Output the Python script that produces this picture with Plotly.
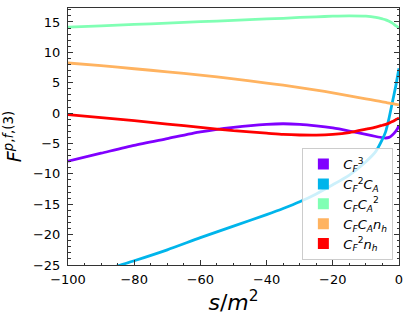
import plotly.graph_objects as go

s = [-100, -90, -80, -70, -60, -50, -40, -35, -30, -25, -20, -15, -10, -7, -5, -4, -3, -2, -1, -0.5, 0]

cf3 = [-7.9, -6.6, -5.3, -4.2, -3.1, -2.35, -1.85, -1.75, -1.85, -2.1, -2.45, -2.95, -3.5, -3.85, -4.05, -4.1, -4.0, -3.6, -3.0, -2.6, -2.0]
cf2ca = [-28.0, -26.0, -24.3, -22.5, -20.5, -18.6, -16.7, -15.7, -14.6, -13.3, -11.8, -10.2, -8.0, -6.3, -4.3, -3.0, -0.8, 1.8, 4.4, 5.9, 7.4]
cfca2 = [14.15, 14.35, 14.6, 14.8, 15.05, 15.25, 15.5, 15.6, 15.75, 15.85, 15.95, 16.0, 15.95, 15.75, 15.5, 15.35, 15.1, 14.8, 14.4, 14.2, 14.0]
cfcanh = [8.25, 7.8, 7.3, 6.8, 6.25, 5.65, 4.95, 4.6, 4.2, 3.8, 3.35, 2.85, 2.35, 2.05, 1.85, 1.75, 1.65, 1.55, 1.45, 1.4, 1.35]
cf2nh = [-0.25, -0.75, -1.25, -1.8, -2.35, -2.9, -3.3, -3.5, -3.6, -3.62, -3.5, -3.2, -2.65, -2.3, -2.0, -1.85, -1.65, -1.4, -1.1, -0.95, -0.8]

x_ticks = [-100, -80, -60, -40, -20, 0]
x_ticklabels = ["\u2212100", "\u221280", "\u221260", "\u221240", "\u221220", "0"]
y_ticks = [-25, -20, -15, -10, -5, 0, 5, 10, 15]
y_ticklabels = ["\u221225", "\u221220", "\u221215", "\u221210", "\u22125", "0", "5", "10", "15"]

series = [cf3, cf2ca, cfca2, cfcanh, cf2nh]
names = [
    "<i>C</i><sub><i>F</i></sub><sup>3</sup>",
    "<i>C</i><sub><i>F</i></sub><sup>2</sup><i>C</i><sub><i>A</i></sub>",
    "<i>C</i><sub><i>F</i></sub><i>C</i><sub><i>A</i></sub><sup>2</sup>",
    "<i>C</i><sub><i>F</i></sub><i>C</i><sub><i>A</i></sub><i>n</i><sub><i>h</i></sub>",
    "<i>C</i><sub><i>F</i></sub><sup>2</sup><i>n</i><sub><i>h</i></sub>",
]
colors = ["#8000ff", "#00b5eb", "#80ffb4", "#ffb360", "#ff0000"]

fig = go.Figure()
for y, c in zip(series, colors):
    fig.add_trace(go.Scatter(x=s, y=y, mode="lines", line=dict(color=c, width=2.8, shape="spline", smoothing=0.6),
                             showlegend=False, hoverinfo="skip"))
for n, c in zip(names, colors):
    fig.add_trace(go.Scatter(x=[None], y=[None], mode="markers", name=n,
                             marker=dict(symbol="square", size=11, color=c)))

tickfont = dict(family="DejaVu Sans", size=13, color="black")
fig.update_layout(
    width=410, height=319,
    margin=dict(l=68, r=11, t=8, b=54),
    paper_bgcolor="white", plot_bgcolor="white",
    font=dict(family="DejaVu Sans", color="black"),
    xaxis=dict(range=[-100, 0], tickmode="array", tickvals=x_ticks, ticktext=x_ticklabels,
               ticks="inside", ticklen=5, tickcolor="#333", showgrid=False, zeroline=False,
               showline=True, linecolor="#333", linewidth=1, mirror=True, tickfont=tickfont,
               automargin=False, ticklabelstandoff=2,
               minor=dict(ticks="inside", dtick=5, ticklen=2.5, tickcolor="#333"),
               title=dict(text="<i>s</i>/<i>m</i><sup>2</sup>", font=dict(size=22), standoff=0)),
    yaxis=dict(range=[-25, 17.3], tickmode="array", tickvals=y_ticks, ticktext=y_ticklabels,
               ticks="inside", ticklen=5, tickcolor="#333", showgrid=False, zeroline=False,
               showline=True, linecolor="#333", linewidth=1, mirror="ticks", tickfont=tickfont,
               automargin=False, ticklabelstandoff=4,
               minor=dict(ticks="inside", dtick=1, ticklen=2.5, tickcolor="#333"),
               title=dict(text="<i>F</i><sup><i>p</i>,<i>f</i>,(3)</sup>", font=dict(size=19), standoff=6)),
    legend=dict(x=0.983, xanchor="right", y=0.455, yanchor="top",
                bgcolor="rgba(255,255,255,0.8)", bordercolor="#cccccc", borderwidth=1,
                font=dict(family="DejaVu Sans", size=13), itemwidth=30, tracegroupgap=0),
)
fig.write_html("out.html", config={"displayModeBar": False},
               post_script="document.body.style.margin='0';document.body.style.overflow='hidden';")
